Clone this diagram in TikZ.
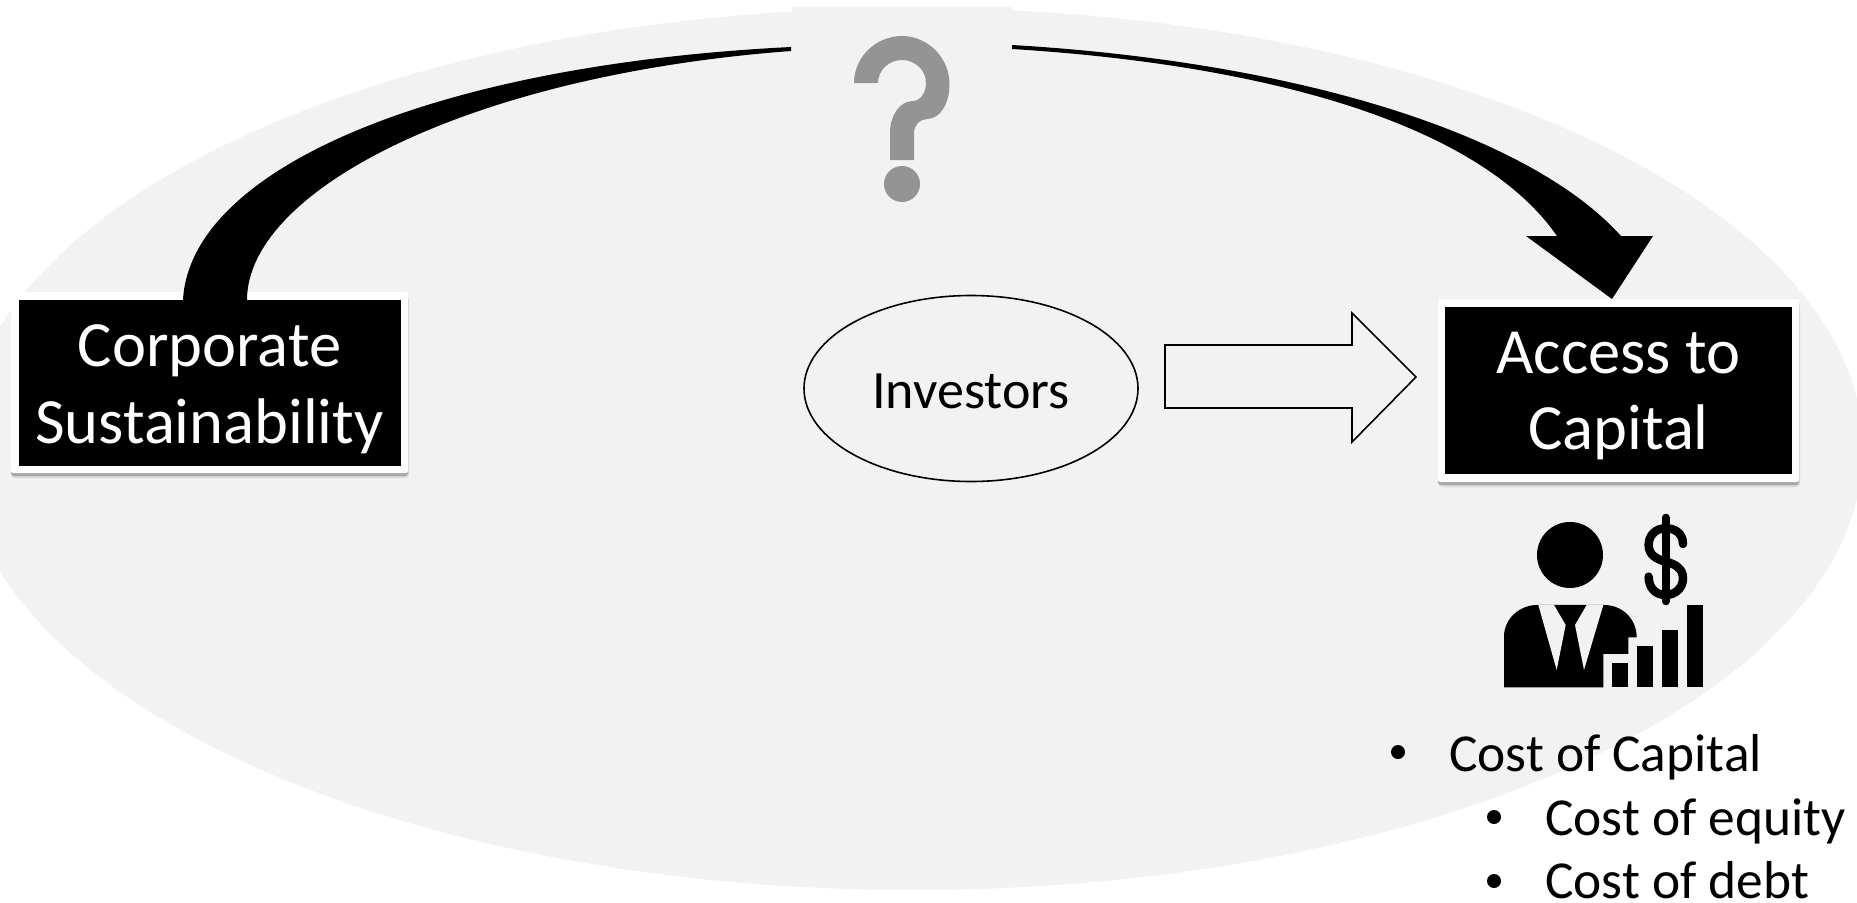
\documentclass[tikz,border=0pt]{standalone}
\usepackage{fontspec}
\usetikzlibrary{shapes.geometric}
\setmainfont{Carlito}
\definecolor{bgshape}{HTML}{F2F2F2}
\definecolor{qmark}{HTML}{949494}
\tikzset{
  x=1pt,y=-1pt,
  blackbox/.style={fill=black,draw=none,inner sep=0pt},
  boxtext/.style={text=white,inner sep=0pt,align=center,font=\fontsize{64.5}{76}\selectfont},
  framebox/.style={fill=white,rounded corners=2pt,draw=none},
  softshadow/.style={fill=black!15,rounded corners=4pt,draw=none},
  shadowbox/.style={fill=black!35,rounded corners=3pt,draw=none},
  bodytext/.style={text=black,inner sep=0pt,anchor=base west,font=\fontsize{53.4}{63}\selectfont},
  bulletdot/.style={circle,fill=black,inner sep=0pt,minimum size=14pt},
  outline/.style={draw=black,line width=1.6pt},
}
\begin{document}
\begin{tikzpicture}
\useasboundingbox (0,0) rectangle (1857,902);
% background shape
\begin{scope}
\clip (0,0) rectangle (1857,902);
\fill[bgshape] (913,449) ellipse [x radius=950pt,y radius=441pt];
\fill[bgshape] (792,7) rectangle (1012,60);
\end{scope}
% corporate box
\fill[softshadow] (11,296) rectangle (409,478);
\fill[shadowbox] (11,294) rectangle (408,476);
\fill[framebox] (11,292) rectangle (408,473);
\node[blackbox,minimum width=382pt,minimum height=166pt] (cs) at (209.5,383) {};
\node[boxtext,font=\fontsize{64.5}{77}\selectfont] (cstext) at (209.5,389.5) {Corporate\\Sustainability};
% access box
\fill[softshadow] (1438,303) rectangle (1800,487);
\fill[shadowbox] (1438,301) rectangle (1799,485);
\fill[framebox] (1438,299) rectangle (1799,482);
\node[blackbox,minimum width=347pt,minimum height=167pt] (ac) at (1618.5,390.5) {};
\node[boxtext] (actext) at (1618.5,396) {Access to\\Capital};
% tapered curve, left
\coordinate (la) at (183,300);
\coordinate (lb) at (247,300);
\coordinate (lc) at (791,47);
\coordinate (ld) at (791,51);
\fill[black] (la) .. controls (190,170) and (430,65) .. (lc) -- (ld) .. controls (470,75) and (247,190) .. (lb) -- cycle;
% tapered arrow, right
\coordinate (ra) at (1012,45);
\coordinate (rb) at (1012,49);
\fill[black] (ra) .. controls (1300,62) and (1530,135) .. (1621,236) -- (1653,236) -- (1612,299) -- (1526,236) -- (1557,236) .. controls (1480,125) and (1270,65) .. (rb) -- cycle;
% question mark
\fill[qmark] (854,83) .. controls (854,57) and (876,36) .. (902,36) .. controls (928,36) and (949.5,58) .. (949.5,84) .. controls (949.5,104) and (940,119) .. (927,119) .. controls (920,119) and (914,125) .. (914,133) -- (914,160) -- (890,160) -- (890,133) .. controls (890,115) and (900,101) .. (913,101) .. controls (920,101) and (926,93) .. (926,83) .. controls (926,70) and (915,60) .. (902,60) .. controls (889,60) and (878,70) .. (878,83) -- cycle;
\fill[qmark] (902,184) circle [radius=18pt];
% investors
\node[ellipse,outline,minimum width=334pt,minimum height=186pt,inner sep=0pt] (inv) at (971,388.5) {};
\node[inner sep=0pt,font=\fontsize{54}{60}\selectfont] (invtext) at (971,391.5) {Investors};
% block arrow
\draw[outline,line join=miter] (1165,345) -- (1352,345) -- (1352,313) -- (1416,377) -- (1352,442) -- (1352,408) -- (1165,408) -- cycle;
% icon
\begin{scope}[shift={(1400,200)},x=0.3333pt,y=-0.3333pt]
\fill[black] (510,1065) circle [radius=33pt];
\fill[black] (312,1462) -- (312,1310) .. controls (312,1255) and (360,1215) .. (412,1215) -- (612,1215) .. controls (665,1215) and (710,1255) .. (710,1312) -- (685,1312) -- (685,1362) -- (610,1362) -- (610,1462) -- cycle;
\fill[bgshape] (415,1215) -- (462,1215) -- (497,1275) -- (470,1410) -- cycle;
\fill[bgshape] (610,1215) -- (560,1215) -- (525,1275) -- (552,1410) -- cycle;
\fill[black] (635,1388) rectangle (685,1462);
\fill[black] (710,1338) rectangle (760,1462);
\fill[black] (785,1290) rectangle (835,1462);
\fill[black] (860,1215) rectangle (909,1462);
\draw[black,line width=8pt,line cap=round] (797,953) -- (797,1204);
\draw[black,line width=8.5pt,line cap=round] (849,1032) .. controls (849,1000) and (825,985) .. (797,985) .. controls (768,985) and (746,1005) .. (746,1035) .. controls (746,1065) and (770,1078) .. (797,1085) .. controls (825,1092) and (849,1105) .. (849,1135) .. controls (849,1165) and (825,1185) .. (797,1185) .. controls (768,1185) and (746,1165) .. (746,1130);
\end{scope}
% list
\node[bulletdot] (b1) at (1398,752) {};
\node[bulletdot] (b2) at (1494,817) {};
\node[bulletdot] (b3) at (1494,881) {};
\node[bodytext] (t1) at (1449,771.5) {Cost of Capital};
\node[bodytext] (t2) at (1545,835.5) {Cost of equity};
\node[bodytext] (t3) at (1545,898.5) {Cost of debt};
\end{tikzpicture}
\end{document}
